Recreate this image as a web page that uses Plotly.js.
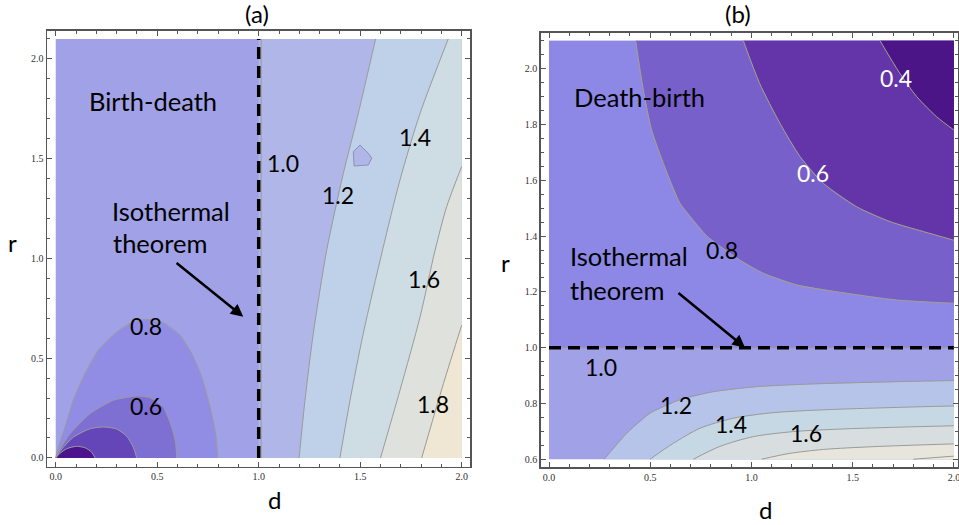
<!DOCTYPE html>
<html><head><meta charset="utf-8">
<script src="https://cdn.plot.ly/plotly-3.0.1.min.js"></script>
<style>html,body{margin:0;padding:0;background:#fff}#chart{width:959px;height:525px}</style>
</head><body><div id="chart"></div>
<script>
// ---------- Panel (a): Birth-death ----------
const aDRange = [0, 2];
const aRRange = [0, 2.1];
// contour lines (d values, r values)
const a02_d = [0, 0.02, 0.054, 0.103, 0.144, 0.177, 0.194];
const a02_r = [0, 0.022, 0.046, 0.058, 0.051, 0.029, 0];
const a04_d = [0, 0.03, 0.087, 0.169, 0.235, 0.30, 0.35, 0.382, 0.399];
const a04_r = [0, 0.045, 0.104, 0.146, 0.155, 0.145, 0.108, 0.054, 0];
const a06_d = [0, 0.025, 0.07, 0.169, 0.284, 0.399, 0.465, 0.53, 0.571, 0.59, 0.596];
const a06_r = [0, 0.05, 0.121, 0.222, 0.289, 0.31, 0.302, 0.255, 0.155, 0.08, 0];
const a08_d = [0, 0.015, 0.046, 0.087, 0.136, 0.21, 0.30, 0.382, 0.448, 0.53, 0.612, 0.67, 0.719, 0.76, 0.788, 0.798];
const a08_r = [0, 0.06, 0.155, 0.289, 0.406, 0.54, 0.63, 0.683, 0.694, 0.677, 0.615, 0.523, 0.406, 0.255, 0.121, 0];
const a10_d = [1, 1];
const a10_r = [0, 2.1];
const a12_d = [1.199, 1.228, 1.269, 1.335, 1.417, 1.483, 1.576];
const a12_r = [0, 0.289, 0.623, 1.041, 1.426, 1.694, 2.1];
const a14_d = [1.4, 1.45, 1.515, 1.61, 1.696, 1.795, 1.934];
const a14_r = [0, 0.289, 0.623, 1.041, 1.393, 1.727, 2.1];
const a16_d = [1.6, 1.696, 1.795, 1.869, 1.926, 2.0];
const a16_r = [0, 0.339, 0.707, 1.041, 1.259, 1.46];
const a18_d = [1.803, 1.91, 2.0];
const a18_r = [0, 0.372, 0.665];
const aBlob_d = [1.499, 1.54, 1.557, 1.54, 1.47, 1.466];
const aBlob_r = [1.568, 1.527, 1.502, 1.468, 1.463, 1.535];
const aLabels = ['0.6', '0.8', '1.0', '1.2', '1.4', '1.6', '1.8'];
const aLabel_d = [0.445, 0.445, 1.12, 1.39, 1.77, 1.814, 1.859];
const aLabel_r = [0.258, 0.66, 1.478, 1.317, 1.609, 0.896, 0.269];

// ---------- Panel (b): Death-birth ----------
const bDRange = [0, 2];
const bRRange = [0.6, 2.1];
const b04_d = [1.635, 1.733, 1.816, 1.914, 2.0];
const b04_r = [2.1, 1.983, 1.9, 1.828, 1.78];
const b06_d = [0.96, 1.04, 1.141, 1.24, 1.355, 1.52, 1.684, 1.849, 2.0];
const b06_r = [2.1, 1.948, 1.804, 1.685, 1.589, 1.505, 1.452, 1.416, 1.385];
const b08_d = [0.428, 0.466, 0.507, 0.565, 0.647, 0.78, 0.943, 1.058, 1.224, 1.47, 1.716, 2.0];
const b08_r = [2.1, 1.924, 1.78, 1.661, 1.518, 1.40, 1.314, 1.267, 1.225, 1.195, 1.171, 1.159];
const b10_d = [0, 2];
const b10_r = [1, 1];
const b12_d = [0.273, 0.384, 0.499, 0.647, 0.812, 1.026, 1.272, 1.602, 2.0];
const b12_r = [0.6, 0.693, 0.765, 0.813, 0.842, 0.86, 0.869, 0.876, 0.882];
const b14_d = [0.499, 0.614, 0.746, 0.91, 1.108, 1.355, 1.684, 2.0];
const b14_r = [0.6, 0.657, 0.711, 0.747, 0.767, 0.777, 0.785, 0.791];
const b16_d = [0.713, 0.844, 1.009, 1.207, 1.437, 1.684, 2.0];
const b16_r = [0.6, 0.646, 0.681, 0.699, 0.708, 0.714, 0.72];
const b18_d = [1.05, 1.19, 1.355, 1.602, 2.0];
const b18_r = [0.6, 0.621, 0.635, 0.645, 0.655];
const b20_d = [1.8, 2.0];
const b20_r = [0.6, 0.611];
const bLabels = ['0.4', '0.6', '0.8', '1.0', '1.2', '1.4', '1.6'];
const bLabel_d = [1.714, 1.304, 0.854, 0.257, 0.627, 0.899, 1.269];
const bLabel_r = [1.967, 1.626, 1.35, 0.931, 0.795, 0.727, 0.694];
const bLabelColor = ['#ffffff', '#ffffff', '#000000', '#000000', '#000000', '#000000', '#000000'];

// ---------- styles ----------
const aCol = {lt02:'#4b148c', c02:'#6446b9', c04:'#7e6fd3', c06:'#928de4', c08:'#a1a1e7',
              c10:'#b0b7e8', c12:'#bfd1e8', c14:'#cedce3', c16:'#dfe1dd', c18:'#f0e6d4'};
const bCol = {lt04:'#4b1587', c04:'#6335a9', c06:'#7760c9', c08:'#8d88e5',
              c10:'#a1a1e7', c12:'#b5c4e8', c14:'#c7d8e5', c16:'#d8dee0', c18:'#e8e6dc', c20:'#f0e8d6'};
const LINE = '#9a9a9a';
const TXT = 'Lato, Open Sans, sans-serif';

function poly(xs, ys, ex, ey) { return [xs.concat(ex), ys.concat(ey)]; }
function fillT(p, color, ax) {
  return {type:'scatter', mode:'lines', x:p[0], y:p[1], fill:'toself', fillcolor:color,
          line:{width:0, color:color}, xaxis:ax[0], yaxis:ax[1], hoverinfo:'skip', showlegend:false};
}
function lineT(xs, ys, ax, extra) {
  return Object.assign({type:'scatter', mode:'lines', x:xs, y:ys,
          line:{color:LINE, width:1, shape:'spline', smoothing:0.8},
          xaxis:ax[0], yaxis:ax[1], hoverinfo:'skip', showlegend:false}, extra || {});
}
const A = ['x', 'y'], B = ['x2', 'y2'];
const aD0 = aDRange[0], aD1 = aDRange[1], aR0 = aRRange[0], aR1 = aRRange[1];
const bD0 = bDRange[0], bD1 = bDRange[1], bR0 = bRRange[0], bR1 = bRRange[1];
const olive = {line:{color:'#a3a088', width:1, shape:'spline', smoothing:0.8}};

const traces = [
  // panel (a) fills
  fillT([[aD0, aD1, aD1, aD0], [aR0, aR0, aR1, aR1]], aCol.c08, A),
  fillT(poly(a10_d, a10_r, [aD1, aD1], [aR1, aR0]), aCol.c10, A),
  fillT(poly(a12_d, a12_r, [aD1, aD1], [aR1, aR0]), aCol.c12, A),
  fillT(poly(a14_d, a14_r, [aD1, aD1], [aR1, aR0]), aCol.c14, A),
  fillT(poly(a16_d, a16_r, [aD1], [aR0]), aCol.c16, A),
  fillT(poly(a18_d, a18_r, [aD1], [aR0]), aCol.c18, A),
  fillT([a08_d, a08_r], aCol.c06, A),
  fillT([a06_d, a06_r], aCol.c04, A),
  fillT([a04_d, a04_r], aCol.c02, A),
  fillT([a02_d, a02_r], aCol.lt02, A),
  fillT([aBlob_d, aBlob_r], aCol.c10, A),
  // panel (a) contour lines
  lineT(a02_d, a02_r, A), lineT(a04_d, a04_r, A), lineT(a06_d, a06_r, A), lineT(a08_d, a08_r, A),
  lineT(a12_d, a12_r, A), lineT(a14_d, a14_r, A), lineT(a16_d, a16_r, A), lineT(a18_d, a18_r, A),
  lineT(aBlob_d.concat([aBlob_d[0]]), aBlob_r.concat([aBlob_r[0]]), A, {line:{color:'#8f8fb8', width:1}}),
  lineT(a10_d.map(v => v + 0.012), a10_r, A),
  lineT(a10_d, a10_r, A, {line:{color:'#000', width:3.5, dash:'12px,7px'}}),

  // panel (b) fills
  fillT([[bD0, bD1, bD1, bD0], [bR0, bR0, bR1, bR1]], bCol.c10, B),
  fillT(poly(b10_d, b10_r, [bD1, bD0], [bR1, bR1]), bCol.c08, B),
  fillT(poly(b08_d, b08_r, [bD1], [bR1]), bCol.c06, B),
  fillT(poly(b06_d, b06_r, [bD1], [bR1]), bCol.c04, B),
  fillT(poly(b04_d, b04_r, [bD1], [bR1]), bCol.lt04, B),
  fillT(poly(b12_d, b12_r, [bD1], [bR0]), bCol.c12, B),
  fillT(poly(b14_d, b14_r, [bD1], [bR0]), bCol.c14, B),
  fillT(poly(b16_d, b16_r, [bD1], [bR0]), bCol.c16, B),
  fillT(poly(b18_d, b18_r, [bD1], [bR0]), bCol.c18, B),
  fillT(poly(b20_d, b20_r, [bD1], [bR0]), bCol.c20, B),
  // panel (b) contour lines
  lineT(b04_d, b04_r, B, olive), lineT(b06_d, b06_r, B, olive), lineT(b08_d, b08_r, B, olive),
  lineT(b12_d, b12_r, B), lineT(b14_d, b14_r, B), lineT(b16_d, b16_r, B), lineT(b18_d, b18_r, B), lineT(b20_d, b20_r, B),
  lineT(b10_d, b10_r, B),
  lineT(b10_d, b10_r, B, {line:{color:'#000', width:3.5, dash:'12px,7px'}})
];

const annotations = [];
aLabels.forEach((t, i) => annotations.push({text:t, x:aLabel_d[i], y:aLabel_r[i], xref:'x', yref:'y',
  xanchor:'center', yanchor:'middle', showarrow:false, font:{family:TXT, size:23, color:'#000'}}));
bLabels.forEach((t, i) => annotations.push({text:t, x:bLabel_d[i], y:bLabel_r[i], xref:'x2', yref:'y2',
  xanchor:'center', yanchor:'middle', showarrow:false, font:{family:TXT, size:23, color:bLabelColor[i]}}));
const big = {family:TXT, size:25.5, color:'#000'};
function word(t, x, y, xr, yr, anchor) {
  return {text:t, x:x, y:y, xref:xr, yref:yr, xanchor:anchor, yanchor:'middle', showarrow:false, font:big};
}
function paperText(t, px, py, size) {
  return {text:t, x:px/959, y:1 - py/525, xref:'paper', yref:'paper', xanchor:'center', yanchor:'middle',
          showarrow:false, font:{family:TXT, size:size, color:'#000'}};
}
annotations.push(
  word('Birth-death', 0.479, 1.789, 'x', 'y', 'center'),
  word('Isothermal', 0.267, 1.237, 'x', 'y', 'left'),
  word('theorem', 0.272, 1.076, 'x', 'y', 'left'),
  {text:'', x:0.924, y:0.707, ax:0.588, ay:0.983, xref:'x', yref:'y', axref:'x', ayref:'y',
   showarrow:true, arrowhead:2, arrowsize:1, arrowwidth:2.5, arrowcolor:'#000', standoff:0},
  word('Death-birth', 0.447, 1.899, 'x2', 'y2', 'center'),
  word('Isothermal', 0.094, 1.329, 'x2', 'y2', 'left'),
  word('theorem', 0.094, 1.206, 'x2', 'y2', 'left'),
  {text:'', x:0.968, y:1.0, ax:0.632, ay:1.2, xref:'x2', yref:'y2', axref:'x2', ayref:'y2',
   showarrow:true, arrowhead:2, arrowsize:1, arrowwidth:2.5, arrowcolor:'#000', standoff:0},
  paperText('(a)', 257, 13, 24),
  paperText('(b)', 738, 13, 24),
  paperText('d', 274, 499, 24),
  paperText('r', 12, 242, 24),
  paperText('d', 765, 509, 24),
  paperText('r', 505, 262, 24)
);

const tickFont = {family:'Liberation Serif, Times New Roman, serif', size:10, color:'#333'};
function ax(domain, range, dtick, minorDtick, anchor) {
  return {domain:domain, range:range, anchor:anchor, showgrid:false, zeroline:false,
    showline:true, linecolor:'#555', linewidth:1.5, mirror:'ticks', ticks:'inside', ticklen:5,
    tickwidth:1, tickcolor:'#555', dtick:dtick, tick0:0, tickformat:'.1f', tickfont:tickFont,
    ticklabeloverflow:'allow',
    minor:{ticks:'inside', ticklen:3, dtick:minorDtick, tick0:0, tickcolor:'#555', tickwidth:1, showgrid:false},
    fixedrange:true};
}

const layout = {
  width:959, height:525, margin:{l:0, r:0, t:0, b:0},
  paper_bgcolor:'#fff', plot_bgcolor:'#fff', showlegend:false, hovermode:false,
  xaxis: ax([47/959, 470/959], [-0.043, 2.041], 0.5, 0.1, 'y'),
  yaxis: ax([1 - 466.5/525, 1 - 30.7/525], [-0.043, 2.141], 0.5, 0.1, 'x'),
  xaxis2: ax([540.7/959, 958/959], [-0.041, 2.02], 0.5, 0.1, 'y2'),
  yaxis2: ax([1 - 467.3/525, 1 - 32.7/525], [0.571, 2.129], 0.2, 0.05, 'x2'),
  annotations: annotations
};

Plotly.newPlot('chart', traces, layout, {staticPlot:true, displayModeBar:false});
</script></body></html>
